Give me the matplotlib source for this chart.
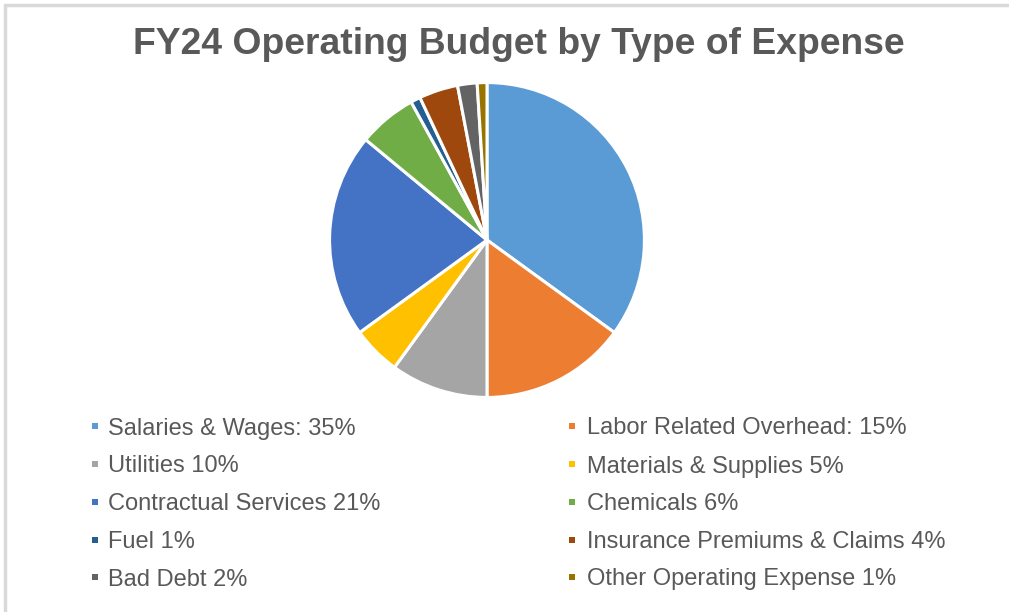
import matplotlib.pyplot as plt
from matplotlib.patches import Rectangle

plt.rcParams['font.family'] = ['Liberation Sans', 'DejaVu Sans']

# Expense categories and share of the FY24 operating budget (%)
categories = ["Salaries & Wages", "Labor Related Overhead", "Utilities", "Materials & Supplies",
              "Contractual Services", "Chemicals", "Fuel", "Insurance Premiums & Claims",
              "Bad Debt", "Other Operating Expense"]
shares = [35, 15, 10, 5, 21, 6, 1, 4, 2, 1]
legend_labels = ["Salaries & Wages: 35%", "Labor Related Overhead: 15%", "Utilities 10%",
                 "Materials & Supplies 5%", "Contractual Services 21%", "Chemicals 6%",
                 "Fuel 1%", "Insurance Premiums & Claims 4%", "Bad Debt 2%",
                 "Other Operating Expense 1%"]
colors = ["#5B9BD5", "#ED7D31", "#A5A5A5", "#FFC000", "#4472C4",
          "#70AD47", "#255E91", "#9E480E", "#636363", "#997300"]

W, H = 1009, 612
fig = plt.figure(figsize=(W / 100, H / 100), dpi=100)
text_col = "#595959"

# light frame around the chart area
fig.patches.append(Rectangle((5 / W, -0.1), 1.2, 1 - 5 / H + 0.1, transform=fig.transFigure,
                             fill=False, edgecolor="#D9D9D9", linewidth=2.5))

fig.text(519 / W, 1 - 44 / H, "FY24 Operating Budget by Type of Expense", ha="center", va="center",
         fontsize=26.8, fontweight="bold", color=text_col)

# pie
cx, cy, r = 487, 240, 159
ax = fig.add_axes([(cx - r) / W, (H - cy - r) / H, 2 * r / W, 2 * r / H])
ax.pie(shares, colors=colors, startangle=90, counterclock=False, radius=1,
       wedgeprops=dict(edgecolor="white", linewidth=2.2))
ax.set_xlim(-1.01, 1.01)
ax.set_ylim(-1.01, 1.01)
ax.set_aspect("equal")
ax.axis("off")

# two-column legend
col_marker_x = [95, 572]
col_text_x = [108, 587]
row_y = [426, 464, 502, 540, 577]
for i, (lab, c) in enumerate(zip(legend_labels, colors)):
    col, row = i % 2, i // 2
    mx, my = col_marker_x[col], row_y[row]
    fig.patches.append(Rectangle(((mx - 3) / W, 1 - (my + 3) / H), 6 / W, 6 / H,
                                 transform=fig.transFigure, facecolor=c, edgecolor="none"))
    fig.text(col_text_x[col] / W, 1 - my / H, lab, ha="left", va="center_baseline",
             fontsize=17, color=text_col)

fig.savefig("out.png", dpi=100)
